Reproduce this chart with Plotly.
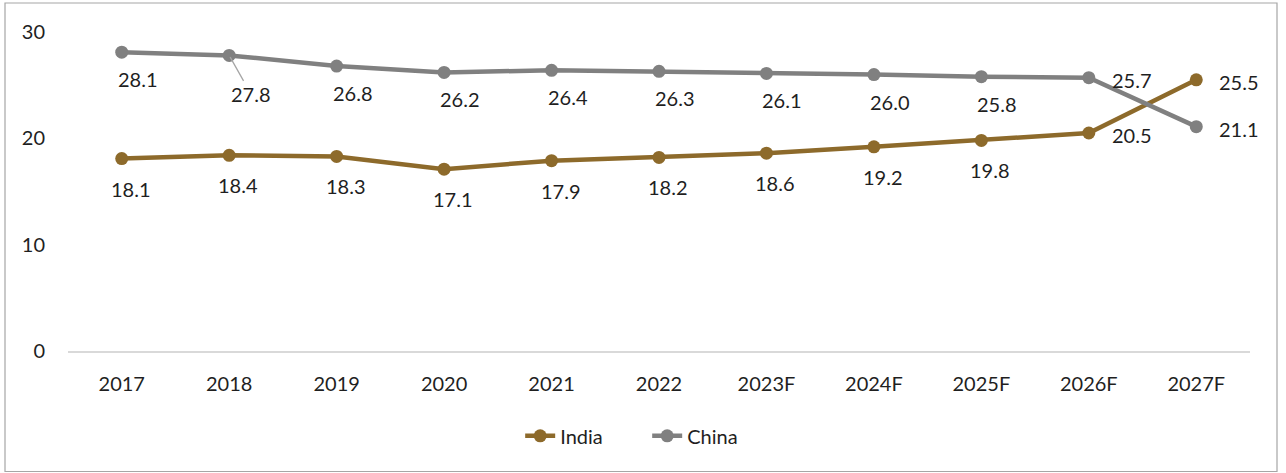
import plotly.graph_objects as go

years = ["2017", "2018", "2019", "2020", "2021", "2022", "2023F", "2024F", "2025F", "2026F", "2027F"]
india = [18.1, 18.4, 18.3, 17.1, 17.9, 18.2, 18.6, 19.2, 19.8, 20.5, 25.5]
china = [28.1, 27.8, 26.8, 26.2, 26.4, 26.3, 26.1, 26.0, 25.8, 25.7, 21.1]
y_ticks = [0, 10, 20, 30]

W, H = 1286, 473
L, R, T, B = 68, 36, 32, 122
FONT = "Lato"
FS = 20
TXT = "#1F1F1F"
INDIA_C = "#8D6A2B"
CHINA_C = "#808080"

fig = go.Figure()
fig.add_trace(go.Scatter(x=years, y=india, name="India", mode="lines+markers",
                         line=dict(color=INDIA_C, width=4.5),
                         marker=dict(size=13, color=INDIA_C)))
fig.add_trace(go.Scatter(x=years, y=china, name="China", mode="lines+markers",
                         line=dict(color=CHINA_C, width=4.5),
                         marker=dict(size=13, color=CHINA_C)))

ann = []
n = len(years)
# category axis: annotations positioned by category index
for i, v in enumerate(india):
    if i >= n - 2:
        ann.append(dict(x=i, y=v, text=f"{v:.1f}", showarrow=False,
                        xshift=43, yshift=-2))
    else:
        ann.append(dict(x=i, y=v, text=f"{v:.1f}", showarrow=False,
                        xshift=9, yshift=-30))
for i, v in enumerate(china):
    if i >= n - 2:
        ann.append(dict(x=i, y=v, text=f"{v:.1f}", showarrow=False,
                        xshift=43, yshift=-2))
    elif i == 1:
        ann.append(dict(x=i, y=v, text=f"{v:.1f}", showarrow=True,
                        arrowhead=0, arrowwidth=1.3, arrowcolor="#A6A6A6",
                        ax=22, ay=39, standoff=2))
    else:
        ann.append(dict(x=i, y=v, text=f"{v:.1f}", showarrow=False,
                        xshift=16, yshift=-27))

pw = W - L - R
ph = H - T - B
x0 = (5 - L) / pw
x1 = (1277 - L) / pw
y1 = (H - B - 3) / ph
y0 = (H - B - 471.5) / ph

fig.update_layout(
    width=W, height=H,
    margin=dict(l=L, r=R, t=T, b=B),
    paper_bgcolor="white", plot_bgcolor="white",
    font=dict(family=FONT, size=FS, color=TXT),
    showlegend=True,
    legend=dict(orientation="h", x=0.49, xanchor="center", y=-0.266, yanchor="middle",
                font=dict(family=FONT, size=FS, color=TXT),
                entrywidth=82, traceorder="normal"),
    xaxis=dict(type="category", range=[-0.5, n - 0.5], showgrid=False,
               showline=True, linecolor="#D9D9D9", linewidth=2,
               ticks="outside", ticklen=14, tickcolor="rgba(0,0,0,0)",
               tickfont=dict(family=FONT, size=FS, color=TXT), zeroline=False),
    yaxis=dict(range=[0, 30], tickvals=y_ticks, showgrid=False, showline=False,
               zeroline=False, ticks="outside", ticklen=18, tickcolor="rgba(0,0,0,0)",
               tickfont=dict(family=FONT, size=FS, color=TXT)),
    annotations=ann,
    shapes=[dict(type="rect", xref="paper", yref="paper", x0=x0, x1=x1, y0=y0, y1=y1,
                 line=dict(color="#A6A6A6", width=1.2), layer="below")],
)

fig.write_html("out.html")
